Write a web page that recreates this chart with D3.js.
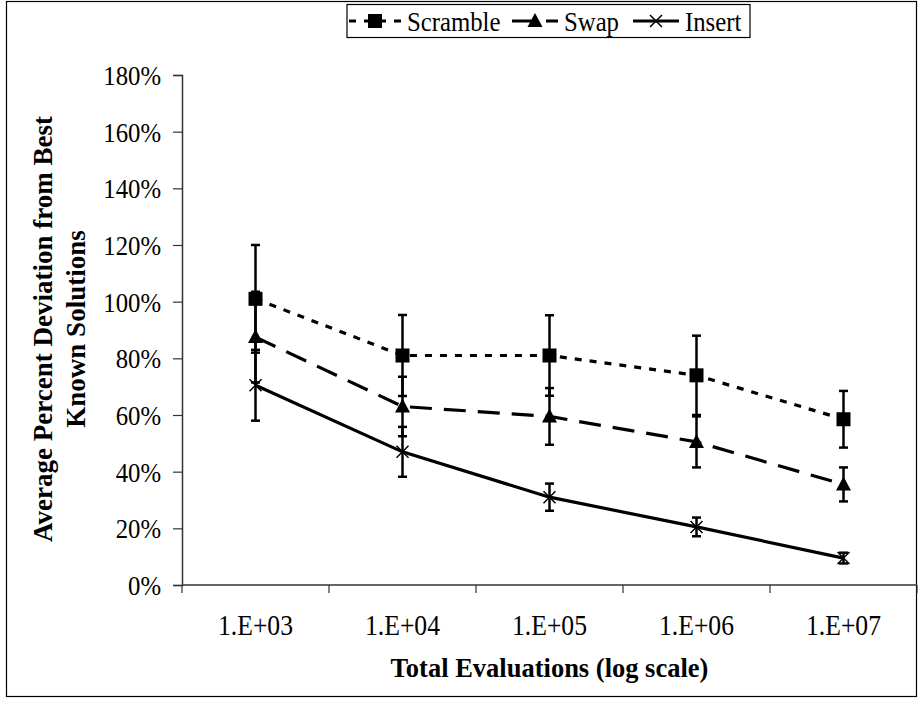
<!DOCTYPE html>
<html>
<head>
<meta charset="utf-8">
<script src="https://cdn.jsdelivr.net/npm/d3@7"></script>
<style>
  body { margin: 0; background: #fff; }
  text { font-family: "Liberation Serif", "Times New Roman", serif; fill: #000; }
</style>
</head>
<body>
<div class="container"></div>
<script>
// chart values
var categories = ["1.E+03", "1.E+04", "1.E+05", "1.E+06", "1.E+07"];
var scramble    = [1.01, 0.81, 0.81, 0.74, 0.585];
var scrambleErr = [0.19, 0.143, 0.142, 0.14, 0.10];
var swap        = [0.875, 0.63, 0.595, 0.505, 0.355];
var swapErr     = [0.16, 0.105, 0.10, 0.09, 0.06];
var insert      = [0.705, 0.47, 0.31, 0.205, 0.095];
var insertErr   = [0.125, 0.088, 0.048, 0.033, 0.019];
var yTicks      = [0, 0.2, 0.4, 0.6, 0.8, 1.0, 1.2, 1.4, 1.6, 1.8];

var width = 919, height = 702;
var plot = {left: 182, right: 917, top: 75, bottom: 585};
var squeeze = 0.9; // the source font is a bit narrow for its height

var svg = d3.select("div.container").append("svg")
    .attr("width", width)
    .attr("height", height)
    .attr("font-family", "Liberation Serif");

// outer chart border
svg.append("rect")
    .attr("x", 6.5).attr("y", 1.5)
    .attr("width", 910).attr("height", 695)
    .attr("fill", "none").attr("stroke", "#000").attr("stroke-width", 1.2);

var x = d3.scaleBand().domain(categories).range([plot.left, plot.right]);
var y = d3.scaleLinear().domain([0, 1.8]).range([plot.bottom, plot.top]);
var cx = function(i) { return x(categories[i]) + x.bandwidth() / 2; };

// y axis
var yAxis = svg.append("g")
    .attr("transform", "translate(" + plot.left + ",0)")
    .call(d3.axisLeft(y).tickValues(yTicks).tickSize(9).tickPadding(12)
        .tickFormat(d3.format(".0%")));
yAxis.attr("font-family", null).attr("font-size", null);
yAxis.selectAll("text")
    .attr("font-size", 27.5)
    .attr("x", -21 / squeeze)
    .attr("dy", "0.34em")
    .attr("transform", "scale(" + squeeze + ",1)");
yAxis.select(".domain").attr("stroke", "#333").attr("stroke-width", 1.5);
yAxis.selectAll(".tick line").attr("stroke", "#333").attr("stroke-width", 1.2);

// x axis, ticks between categories
var xAxis = svg.append("g")
    .attr("transform", "translate(0," + plot.bottom + ")");
xAxis.append("line")
    .attr("x1", plot.left).attr("x2", plot.right)
    .attr("stroke", "#333").attr("stroke-width", 1.5);
xAxis.selectAll(".xt")
    .data(categories.concat(["end"]))
    .enter().append("line")
    .attr("class", "xt")
    .attr("x1", function(d, i) { return plot.left + i * x.bandwidth(); })
    .attr("x2", function(d, i) { return plot.left + i * x.bandwidth(); })
    .attr("y1", 0).attr("y2", 8)
    .attr("stroke", "#333").attr("stroke-width", 1.2);
xAxis.selectAll(".xl")
    .data(categories)
    .enter().append("text")
    .attr("class", "xl")
    .attr("transform", function(d, i) { return "translate(" + cx(i) + ",50) scale(" + squeeze + ",1)"; })
    .attr("text-anchor", "middle")
    .attr("font-size", 28.5)
    .text(function(d) { return d; });

// axis titles
svg.append("text")
    .attr("x", x.bandwidth() * 2.5 + plot.left)
    .attr("y", 677)
    .attr("text-anchor", "middle")
    .attr("font-size", 26.5).attr("font-weight", "bold")
    .text("Total Evaluations (log scale)");

var yTitle = svg.append("text")
    .attr("transform", "translate(52,329) rotate(-90)")
    .attr("text-anchor", "middle")
    .attr("font-size", 27).attr("font-weight", "bold");
yTitle.append("tspan").attr("x", 0).attr("y", 0).text("Average Percent Deviation from Best");
yTitle.append("tspan").attr("x", 0).attr("y", 33).text("Known Solutions");

// series
var series = [
    {name: "Scramble", vals: scramble, err: scrambleErr, dash: "7,8", marker: "square"},
    {name: "Swap", vals: swap, err: swapErr, dash: "22,12", marker: "triangle"},
    {name: "Insert", vals: insert, err: insertErr, dash: null, marker: "cross"}
];

function drawMarker(g, type, px, py) {
    if (type === "square") {
        g.append("rect").attr("x", px - 7).attr("y", py - 7)
            .attr("width", 14).attr("height", 14).attr("fill", "#000");
    } else if (type === "triangle") {
        g.append("path")
            .attr("d", "M" + px + "," + (py - 8) + "L" + (px + 7.5) + "," + (py + 6) + "L" + (px - 7.5) + "," + (py + 6) + "Z")
            .attr("fill", "#000");
    } else {
        g.append("path")
            .attr("d", "M" + (px - 6) + "," + (py - 6) + "L" + (px + 6) + "," + (py + 6)
                + "M" + (px - 6) + "," + (py + 6) + "L" + (px + 6) + "," + (py - 6))
            .attr("stroke", "#000").attr("stroke-width", 1.5);
    }
}

var line = d3.line()
    .x(function(d, i) { return cx(i); })
    .y(function(d) { return y(d); });

series.forEach(function(s) {
    var g = svg.append("g").attr("class", "series");
    // error bars
    s.vals.forEach(function(v, i) {
        var px = cx(i), lo = y(v - s.err[i]), hi = y(v + s.err[i]);
        g.append("line").attr("x1", px).attr("x2", px).attr("y1", lo).attr("y2", hi)
            .attr("stroke", "#000").attr("stroke-width", 2.5);
        [lo, hi].forEach(function(yy) {
            g.append("line").attr("x1", px - 4.5).attr("x2", px + 4.5).attr("y1", yy).attr("y2", yy)
                .attr("stroke", "#000").attr("stroke-width", 2.5);
        });
    });
    g.append("path")
        .attr("d", line(s.vals))
        .attr("fill", "none").attr("stroke", "#000").attr("stroke-width", 3.2)
        .attr("stroke-dasharray", s.dash);
    s.vals.forEach(function(v, i) { drawMarker(g, s.marker, cx(i), y(v)); });
});

// legend
var legend = svg.append("g");
legend.append("rect")
    .attr("x", 347).attr("y", 4.5).attr("width", 403).attr("height", 33)
    .attr("fill", "#fff").attr("stroke", "#000").attr("stroke-width", 1.2);
var legX = [349, 512, 633];
series.forEach(function(s, i) {
    var lx = legX[i], ly = 21;
    var len = i === 0 ? 52 : 46;
    legend.append("line").attr("x1", lx).attr("x2", lx + len).attr("y1", ly).attr("y2", ly)
        .attr("stroke", "#000").attr("stroke-width", 3.2)
        .attr("stroke-dasharray", s.dash);
    drawMarker(legend, s.marker, lx + len / 2, ly);
    legend.append("text")
        .attr("transform", "translate(" + (lx + len + 6) + "," + (ly + 9.5) + ") scale(" + squeeze + ",1)")
        .attr("font-size", 27.5)
        .text(s.name);
});
</script>
</body>
</html>
